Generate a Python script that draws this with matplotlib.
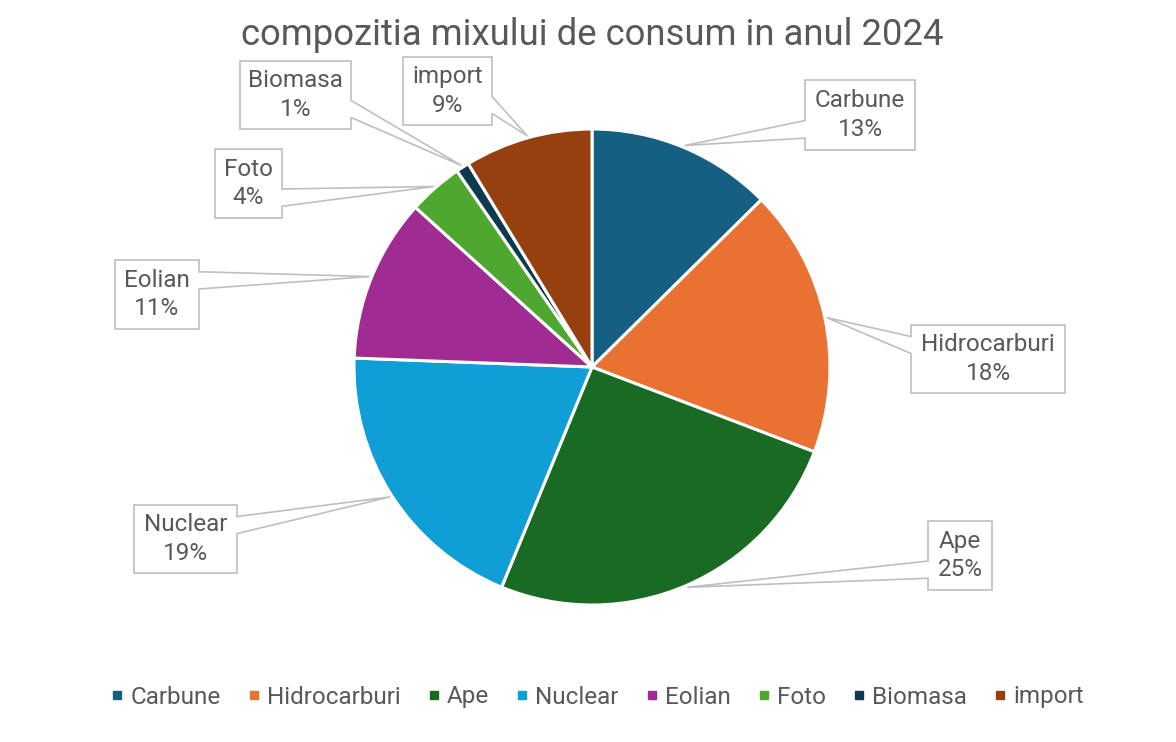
import numpy as np
import matplotlib.pyplot as plt
from matplotlib.patches import Polygon
from matplotlib.lines import Line2D

plt.rcParams['font.family'] = ['Roboto', 'DejaVu Sans']

# data
labels = ['Carbune', 'Hidrocarburi', 'Ape', 'Nuclear', 'Eolian', 'Foto', 'Biomasa', 'import']
values = [12.6, 18.2, 25.4, 19.4, 11.1, 3.7, 0.9, 8.7]
colors = ['#156082', '#E97132', '#196B24', '#0F9ED5', '#A02B93', '#4EA72E', '#0E3A4F', '#96400F']
title = 'compozitia mixului de consum in anul 2024'

# callout boxes, pixel coords of the picture (left, top, right, bottom)
boxes = [(805, 80, 915, 150),
         (911, 325, 1065, 393),
         (928, 521, 992, 590),
         (134, 505, 237, 573),
         (115, 260, 199, 329),
         (215, 149, 282, 218),
         (240, 61, 351, 129),
         (403, 57, 492, 125)]

W, H = 1176, 742
cx, cy, R = 592, H - 367, 238
txt_col = '#595959'
fs = 17.5

fig = plt.figure(figsize=(W / 100, H / 100), dpi=100)
ax = fig.add_axes([0, 0, 1, 1])

wedges, _ = ax.pie(values, colors=colors, startangle=90, counterclock=False,
                   center=(cx, cy), radius=R,
                   wedgeprops=dict(edgecolor='white', linewidth=2.2))
ax.set_xlim(0, W)
ax.set_ylim(0, H)
ax.set_aspect('equal')
ax.axis('off')

total = sum(values)
for w, name, v, (l, t, r, b) in zip(wedges, labels, values, boxes):
    ang = np.deg2rad((w.theta1 + w.theta2) / 2)
    tip = (cx + (R + 2) * np.cos(ang), cy + (R + 2) * np.sin(ang))
    yt, yb = H - t, H - b
    mid = (yt + yb) / 2
    if tip[1] > mid:
        f1, f2 = 0.17, 0.42
    else:
        f1, f2 = 0.58, 0.83
    ya = yt - f1 * (yt - yb)
    yc = yt - f2 * (yt - yb)
    if tip[0] > r:
        pts = [(l, yb), (r, yb), (r, yc), tip, (r, ya), (r, yt), (l, yt)]
    else:
        pts = [(l, yb), (r, yb), (r, yt), (l, yt), (l, ya), tip, (l, yc)]
    ax.add_patch(Polygon(pts, closed=True, facecolor='white', edgecolor='#BFBFBF',
                         linewidth=1.2, zorder=3))
    pct = round(v / total * 100)
    ax.text((l + r) / 2, (yt + yb) / 2, f'{name}\n{pct}%', ha='center', va='center',
            fontsize=fs, color=txt_col, linespacing=1.33, zorder=4)

ax.text(cx, H - 45, title, ha='center', va='baseline', fontsize=26.3, color=txt_col)

handles = [Line2D([], [], marker='s', linestyle='', markersize=6, color=c) for c in colors]
fig.legend(handles, labels, loc='center', bbox_to_anchor=(597 / W, (H - 697) / H),
           ncol=len(labels), frameon=False, fontsize=fs, labelcolor=txt_col,
           handlelength=0.6, handletextpad=0.25, columnspacing=1.05, borderpad=0)

plt.savefig('out.png', dpi=100)
